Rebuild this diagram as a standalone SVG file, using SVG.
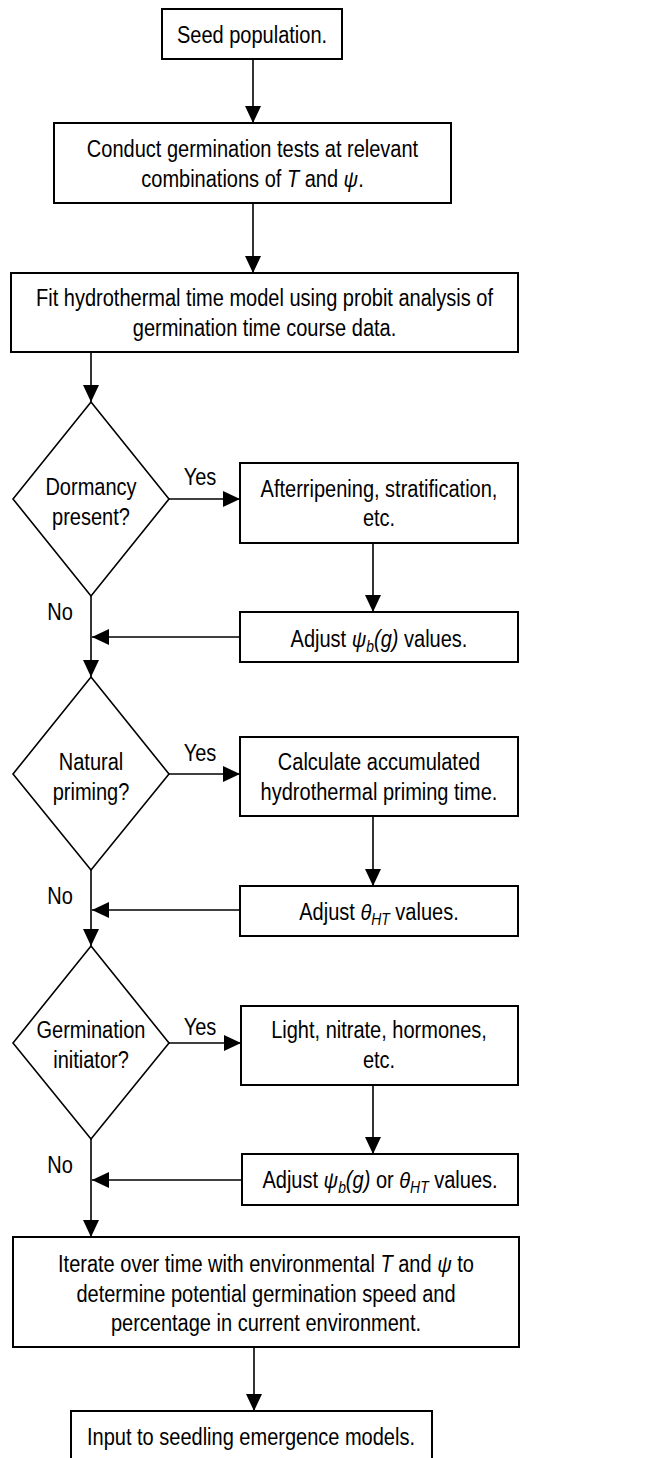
<svg xmlns="http://www.w3.org/2000/svg" width="650" height="1458" viewBox="0 0 650 1458">
<defs>
<marker id="ah" markerWidth="17" markerHeight="16" refX="17" refY="8" orient="auto" markerUnits="userSpaceOnUse">
<path d="M0,0 L17,8 L0,16 Z" fill="#000"/>
</marker>
<style>
.box{fill:#fff;stroke:#000;stroke-width:2}
.dia{fill:#fff;stroke:#000;stroke-width:1.6}
.con{fill:none;stroke:#000;stroke-width:1.6;marker-end:url(#ah)}
text{font-family:"Liberation Sans",Arial,sans-serif;font-size:23px;fill:#000;text-anchor:middle}
.i{font-style:italic}
.s{font-size:16px;font-style:italic}
</style>
</defs>
<rect width="650" height="1458" fill="#fff"/>
<g id="connectors">
<line class="con" x1="253" y1="59" x2="253" y2="123"/>
<line class="con" x1="253" y1="203" x2="253" y2="273"/>
<line class="con" x1="91" y1="352" x2="91" y2="402"/>
<line class="con" x1="169" y1="499" x2="240" y2="499"/>
<line class="con" x1="373" y1="543" x2="373" y2="612"/>
<line class="con" x1="240" y1="637" x2="92" y2="637"/>
<line class="con" x1="91" y1="596" x2="91" y2="677"/>
<line class="con" x1="169" y1="774" x2="240" y2="774"/>
<line class="con" x1="373" y1="816" x2="373" y2="886"/>
<line class="con" x1="240" y1="910" x2="92" y2="910"/>
<line class="con" x1="91" y1="870" x2="91" y2="946"/>
<line class="con" x1="169" y1="1043" x2="241" y2="1043"/>
<line class="con" x1="373" y1="1085" x2="373" y2="1154"/>
<line class="con" x1="242" y1="1180" x2="92" y2="1180"/>
<line class="con" x1="91" y1="1139" x2="91" y2="1237"/>
<line class="con" x1="254" y1="1347" x2="254" y2="1411"/>
<text transform="translate(200 485) scale(.87 1)">Yes</text>
<text transform="translate(60 620) scale(.87 1)">No</text>
<text transform="translate(200 761) scale(.87 1)">Yes</text>
<text transform="translate(60 904) scale(.87 1)">No</text>
<text transform="translate(200 1035) scale(.87 1)">Yes</text>
<text transform="translate(60 1173) scale(.87 1)">No</text>
</g>
<g id="seed">
<rect class="box" x="162" y="9" width="180" height="50"/>
<text transform="translate(252 43) scale(.87 1)">Seed population.</text>
</g>
<g id="conduct">
<rect class="box" x="54" y="123" width="397" height="80"/>
<text transform="translate(252.5 157) scale(.87 1)">Conduct germination tests at relevant</text>
<text transform="translate(252.5 187) scale(.87 1)">combinations of <tspan class="i">T</tspan> and <tspan class="i">ψ</tspan>.</text>
</g>
<g id="fit">
<rect class="box" x="11" y="273" width="507" height="79"/>
<text transform="translate(264.5 306) scale(.87 1)">Fit hydrothermal time model using probit analysis of</text>
<text transform="translate(264.5 336) scale(.87 1)">germination time course data.</text>
</g>
<g id="dormancy">
<polygon class="dia" points="91,402 169,499 91,596 13,499"/>
<text transform="translate(91 495) scale(.87 1)">Dormancy</text>
<text transform="translate(91 525) scale(.87 1)">present?</text>
</g>
<g id="afterripening">
<rect class="box" x="240" y="463" width="278" height="80"/>
<text transform="translate(379 497) scale(.87 1)">Afterripening, stratification,</text>
<text transform="translate(379 526) scale(.87 1)">etc.</text>
</g>
<g id="adjust1">
<rect class="box" x="240" y="612" width="278" height="50"/>
<text transform="translate(379 647) scale(.87 1)">Adjust <tspan class="i">ψ</tspan><tspan class="s" dy="5">b</tspan><tspan class="i" dy="-5">(g)</tspan> values.</text>
</g>
<g id="natural">
<polygon class="dia" points="91,677 169,774 91,870 13,774"/>
<text transform="translate(91 770) scale(.87 1)">Natural</text>
<text transform="translate(91 800) scale(.87 1)">priming?</text>
</g>
<g id="calculate">
<rect class="box" x="240" y="737" width="278" height="79"/>
<text transform="translate(379 770) scale(.87 1)">Calculate accumulated</text>
<text transform="translate(379 800) scale(.87 1)">hydrothermal priming time.</text>
</g>
<g id="adjust2">
<rect class="box" x="240" y="886" width="278" height="50"/>
<text transform="translate(379 920) scale(.87 1)">Adjust <tspan class="i">θ</tspan><tspan class="s" dy="5">HT</tspan><tspan dy="-5"> values.</tspan></text>
</g>
<g id="initiator">
<polygon class="dia" points="91,946 169,1043 91,1139 13,1043"/>
<text transform="translate(91 1038) scale(.87 1)">Germination</text>
<text transform="translate(91 1068) scale(.87 1)">initiator?</text>
</g>
<g id="light">
<rect class="box" x="241" y="1006" width="277" height="79"/>
<text transform="translate(379 1038) scale(.87 1)">Light, nitrate, hormones,</text>
<text transform="translate(379 1068) scale(.87 1)">etc.</text>
</g>
<g id="adjust3">
<rect class="box" x="242" y="1154" width="276" height="51"/>
<text transform="translate(380 1188) scale(.87 1)">Adjust <tspan class="i">ψ</tspan><tspan class="s" dy="5">b</tspan><tspan class="i" dy="-5">(g)</tspan> or <tspan class="i">θ</tspan><tspan class="s" dy="5">HT</tspan><tspan dy="-5"> values.</tspan></text>
</g>
<g id="iterate">
<rect class="box" x="13" y="1237" width="506" height="110"/>
<text transform="translate(266 1272) scale(.87 1)">Iterate over time with environmental <tspan class="i">T</tspan> and <tspan class="i">ψ</tspan> to</text>
<text transform="translate(266 1302) scale(.87 1)">determine potential germination speed and</text>
<text transform="translate(266 1331) scale(.87 1)">percentage in current environment.</text>
</g>
<g id="input">
<rect class="box" x="71" y="1411" width="361" height="70"/>
<text transform="translate(251 1445) scale(.87 1)">Input to seedling emergence models.</text>
</g>
</svg>
